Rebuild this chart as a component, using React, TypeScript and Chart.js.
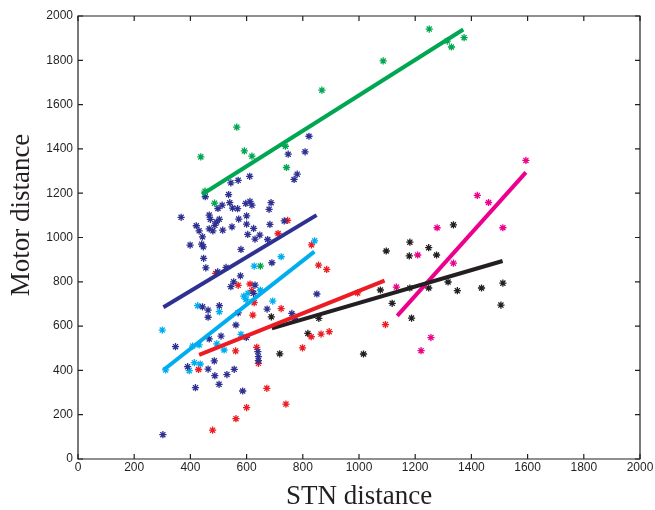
import React, { useEffect, useRef } from "react";
import { Chart, registerables } from "chart.js";

Chart.register(...registerables);

// Scatter points [STN distance, Motor distance]
const greenPoints: number[][] = [
  [437, 1364], [452, 1209], [486, 1155], [565, 1498], [592, 1391], [619, 1367],
  [649, 871], [738, 1412], [742, 1316], [868, 1665], [1086, 1797], [1250, 1941],
  [1314, 1887], [1329, 1860], [1374, 1902],
];

const navyPoints: number[][] = [
  [302, 110], [347, 507], [367, 1091], [390, 417], [399, 966], [418, 322], [421, 1053],
  [431, 1030], [440, 970], [443, 1003], [446, 958], [443, 687], [447, 906], [453, 1184],
  [455, 863], [463, 406], [463, 640], [463, 672], [467, 1101], [471, 1082], [467, 1039],
  [467, 542], [480, 1030], [485, 443], [487, 1055], [493, 1070], [487, 376], [497, 845],
  [498, 1131], [503, 1082], [503, 692], [502, 337], [509, 555], [513, 1146], [515, 1033],
  [527, 865], [530, 381], [536, 1194], [540, 1157], [544, 1247], [544, 778], [548, 1048],
  [550, 1133], [554, 800], [556, 405], [562, 605], [568, 1130], [570, 1258], [570, 660],
  [572, 1083], [578, 827], [580, 946], [586, 307], [597, 1154], [599, 549], [600, 1098],
  [600, 1060], [604, 1014], [612, 1163], [611, 1276], [619, 1146], [625, 1041], [625, 748],
  [630, 993], [630, 785], [640, 485], [642, 462], [642, 444], [647, 1011], [673, 677],
  [675, 991], [680, 1127], [683, 1059], [687, 1157], [690, 886], [734, 1075], [748, 1376],
  [761, 657], [769, 1262], [770, 635], [780, 1286], [808, 1387], [822, 1457], [850, 745],
];

const cyanPoints: number[][] = [
  [300, 582], [312, 402], [396, 399], [408, 510], [414, 435], [426, 692], [435, 429],
  [431, 515], [494, 520], [503, 665], [520, 492], [580, 563], [590, 735], [598, 720],
  [605, 748], [627, 871], [649, 763], [693, 713], [723, 913], [842, 985],
];

const redPoints: number[][] = [
  [429, 404], [479, 130], [490, 838], [561, 488], [562, 182], [570, 784], [600, 232],
  [612, 790], [618, 760], [622, 650], [627, 706], [636, 504], [642, 432], [672, 319],
  [712, 1018], [723, 679], [740, 248], [746, 1077], [799, 502], [831, 967], [830, 552],
  [856, 875], [865, 564], [885, 856], [894, 575], [995, 750], [1094, 607],
];

const blackPoints: number[][] = [
  [688, 642], [718, 475], [818, 567], [857, 635], [1016, 474], [1076, 763], [1097, 939],
  [1118, 703], [1179, 917], [1181, 979], [1181, 772], [1187, 636], [1248, 954], [1248, 772],
  [1276, 921], [1317, 799], [1336, 1057], [1350, 760], [1436, 772], [1505, 695], [1512, 794],
];

const magentaPoints: number[][] = [
  [1133, 776], [1209, 921], [1221, 489], [1256, 548], [1278, 1044], [1336, 884],
  [1421, 1190], [1461, 1158], [1512, 1044], [1594, 1348],
];

// Fitted regression line endpoints
const greenFit: number[][] = [[441, 1194], [1371, 1939]];
const navyFit: number[][] = [[304, 685], [849, 1101]];
const cyanFit: number[][] = [[304, 402], [841, 936]];
const redFit: number[][] = [[431, 470], [1091, 805]];
const blackFit: number[][] = [[690, 590], [1511, 894]];
const magentaFit: number[][] = [[1136, 646], [1594, 1294]];

const xTicks = [0, 200, 400, 600, 800, 1000, 1200, 1400, 1600, 1800, 2000];
const yTicks = [0, 200, 400, 600, 800, 1000, 1200, 1400, 1600, 1800, 2000];

const xTitle = "STN distance";
const yTitle = "Motor distance";

const COLORS = {
  green: "#00a651",
  navy: "#2e3192",
  cyan: "#00aeef",
  red: "#ed1c24",
  black: "#231f20",
  magenta: "#ec008c",
};

const toXY = (arr: number[][]) => arr.map(([x, y]) => ({ x, y }));

const framePlugin = {
  id: "matlabFrame",
  afterDraw(chart: any) {
    const { ctx, chartArea, scales } = chart;
    const { left, right, top, bottom } = chartArea;
    ctx.save();
    ctx.strokeStyle = "#231f20";
    ctx.lineWidth = 1.2;
    ctx.beginPath();
    ctx.rect(left, top, right - left, bottom - top);
    ctx.stroke();
    const tl = 5;
    ctx.beginPath();
    xTicks.forEach((v) => {
      const px = scales.x.getPixelForValue(v);
      ctx.moveTo(px, bottom);
      ctx.lineTo(px, bottom - tl);
      ctx.moveTo(px, top);
      ctx.lineTo(px, top + tl);
    });
    yTicks.forEach((v) => {
      const py = scales.y.getPixelForValue(v);
      ctx.moveTo(left, py);
      ctx.lineTo(left + tl, py);
      ctx.moveTo(right, py);
      ctx.lineTo(right - tl, py);
    });
    ctx.stroke();
    // y axis title
    ctx.translate(22, 215);
    ctx.rotate(-Math.PI / 2);
    ctx.fillStyle = "#231f20";
    ctx.font = "27px 'Liberation Serif', 'Times New Roman', serif";
    ctx.textAlign = "center";
    ctx.textBaseline = "middle";
    ctx.fillText(yTitle, 0, 0);
    ctx.restore();
  },
};

function pointSet(label: string, pts: number[][], color: string) {
  return {
    label,
    data: toXY(pts),
    showLine: false,
    pointStyle: "star",
    pointRadius: 3.6,
    pointBorderWidth: 1.3,
    borderColor: color,
    backgroundColor: color,
    order: 2,
  };
}

function fitSet(label: string, pts: number[][], color: string) {
  return {
    label,
    data: toXY(pts),
    showLine: true,
    borderColor: color,
    backgroundColor: color,
    borderWidth: 4,
    pointRadius: 0,
    fill: false,
    order: 1,
  };
}

export default function App() {
  const canvasRef = useRef<HTMLCanvasElement | null>(null);

  useEffect(() => {
    if (!canvasRef.current) return;
    const tickFont = { family: "'Liberation Sans', Arial, sans-serif", size: 12 };
    const chart = new Chart(canvasRef.current, {
      type: "scatter",
      data: {
        datasets: [
          fitSet("green fit", greenFit, COLORS.green),
          fitSet("navy fit", navyFit, COLORS.navy),
          fitSet("cyan fit", cyanFit, COLORS.cyan),
          fitSet("red fit", redFit, COLORS.red),
          fitSet("black fit", blackFit, COLORS.black),
          fitSet("magenta fit", magentaFit, COLORS.magenta),
          pointSet("green", greenPoints, COLORS.green),
          pointSet("navy", navyPoints, COLORS.navy),
          pointSet("cyan", cyanPoints, COLORS.cyan),
          pointSet("red", redPoints, COLORS.red),
          pointSet("black", blackPoints, COLORS.black),
          pointSet("magenta", magentaPoints, COLORS.magenta),
        ] as any,
      },
      options: {
        responsive: false,
        animation: false,
        events: [],
        layout: { padding: { top: 16, right: 15, left: 0, bottom: 0 } },
        plugins: {
          legend: { display: false },
          tooltip: { enabled: false },
        },
        scales: {
          x: {
            type: "linear",
            min: 0,
            max: 2000,
            grid: { display: false, drawTicks: false, tickLength: 0 },
            border: { display: false },
            afterBuildTicks: (scale: any) => {
              scale.ticks = xTicks.map((v) => ({ value: v }));
            },
            afterFit: (scale: any) => {
              scale.height = 51;
            },
            ticks: {
              padding: 1,
              color: "#231f20",
              font: tickFont,
              maxRotation: 0,
              autoSkip: false,
              callback: (v: any) => String(v),
            },
            title: {
              display: true,
              text: xTitle,
              color: "#231f20",
              font: { family: "'Liberation Serif', 'Times New Roman', serif", size: 27, lineHeight: 1 },
              padding: { top: 0, bottom: 0 },
            },
          },
          y: {
            type: "linear",
            min: 0,
            max: 2000,
            grid: { display: false, drawTicks: false, tickLength: 0 },
            border: { display: false },
            afterBuildTicks: (scale: any) => {
              scale.ticks = yTicks.map((v) => ({ value: v }));
            },
            afterFit: (scale: any) => {
              scale.width = 78;
            },
            ticks: {
              padding: 5,
              color: "#231f20",
              font: tickFont,
              autoSkip: false,
              callback: (v: any) => String(v),
            },
            title: { display: false },
          },
        },
      } as any,
      plugins: [framePlugin],
    });
    return () => chart.destroy();
  }, []);

  return (
    <div style={{ position: "absolute", left: 0, top: 0, width: 655, height: 510, background: "#fff" }}>
      <canvas ref={canvasRef} width={655} height={510} style={{ width: 655, height: 510, display: "block" }} />
    </div>
  );
}
